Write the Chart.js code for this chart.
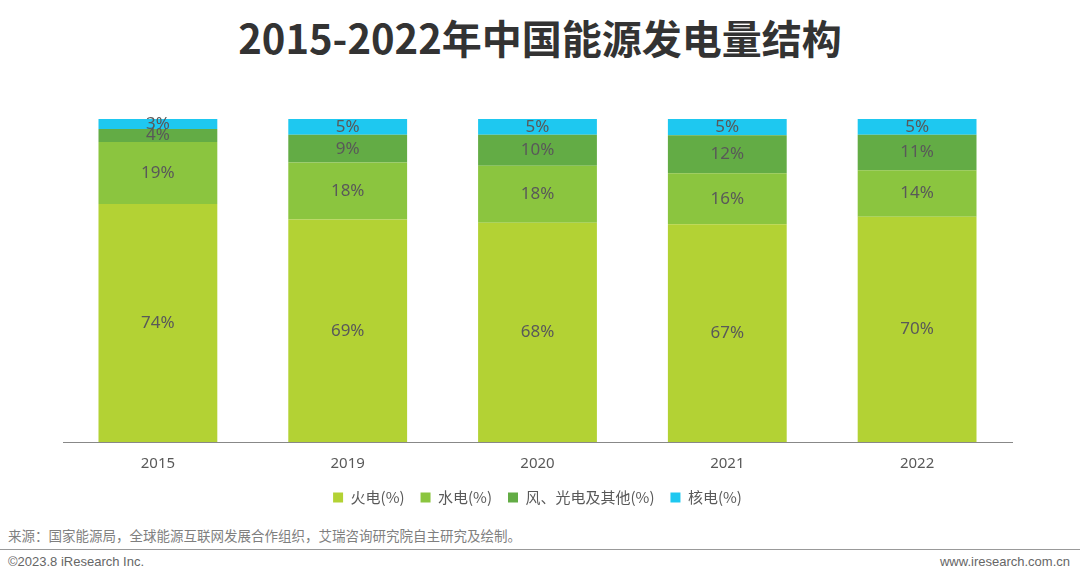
<!DOCTYPE html>
<html>
<head>
<meta charset="utf-8">
<script src="https://cdn.jsdelivr.net/npm/chart.js@4/dist/chart.umd.min.js"></script>
<style>
  body { margin: 0; background: #fff; width: 1080px; height: 577px; position: relative; overflow: hidden; font-family: "Noto Sans CJK SC", "Noto Sans", sans-serif; }
  #title { position: absolute; top: 9px; left: 0; width: 1080px; text-align: center; font-size: 40px; font-weight: bold; color: #333; line-height: 56px; }
  #wrap { position: absolute; top: 100px; left: 0; width: 1080px; height: 415px; }
  #source { position: absolute; top: 525px; left: 8px; font-size: 13.5px; color: #7f7f7f; }
  #rule { position: absolute; top: 549px; left: 0; width: 1080px; border-top: 1px solid #999; }
  #copy { position: absolute; top: 554px; left: 8px; font-size: 13px; color: #666; font-family: "Liberation Sans", Arial, sans-serif; }
  #site { position: absolute; top: 554px; right: 10px; font-size: 13px; color: #666; font-family: "Liberation Sans", Arial, sans-serif; }
</style>
</head>
<body>
<div id="title">2015-2022年中国能源发电量结构</div>
<div id="wrap"><canvas id="chart"></canvas></div>
<div id="source">来源：国家能源局，全球能源互联网发展合作组织，艾瑞咨询研究院自主研究及绘制。</div>
<div id="rule"></div>
<div id="copy">©2023.8 iResearch Inc.</div>
<div id="site">www.iresearch.com.cn</div>
<script>
var years = ['2015', '2019', '2020', '2021', '2022'];
var thermal = [73.7, 68.9, 67.9, 67.4, 69.7];
var hydro = [19.2, 17.6, 17.6, 15.8, 14.4];
var windSolar = [4.0, 8.6, 9.6, 11.8, 11.0];
var nuclear = [3.1, 4.9, 4.9, 5.0, 4.9];
var seriesNames = ['火电(%)', '水电(%)', '风、光电及其他(%)', '核电(%)'];
var colors = ['#b3d234', '#8bc53f', '#63ac45', '#1ec8f0'];

// draws the % text centred inside every stacked segment
var segmentLabels = {
    id: 'segmentLabels',
    afterDatasetsDraw: function(chart) {
        var ctx = chart.ctx;
        ctx.save();
        ctx.font = '17px "Noto Sans", "Noto Sans CJK SC", sans-serif';
        ctx.fillStyle = '#595959';
        ctx.textAlign = 'center';
        ctx.textBaseline = 'middle';
        chart.data.datasets.forEach(function(ds, i) {
            var meta = chart.getDatasetMeta(i);
            meta.data.forEach(function(bar, j) {
                var mid = (bar.y + bar.base) / 2;
                ctx.fillText(Math.round(ds.data[j]) + '%', bar.x, mid);
            });
        });
        ctx.restore();
    }
};

var seriesData = [thermal, hydro, windSolar, nuclear];
var datasets = [];
for (var i = 0; i < seriesData.length; i++) {
    datasets.push({
        label: seriesNames[i],
        data: seriesData[i],
        backgroundColor: colors[i],
        borderWidth: 0,
        barPercentage: 0.626,
        categoryPercentage: 1
    });
}

new Chart(document.getElementById('chart'), {
    type: 'bar',
    data: { labels: years, datasets: datasets },
    plugins: [segmentLabels],
    options: {
        responsive: true,
        maintainAspectRatio: false,
        animation: false,
        layout: { padding: { left: 63, right: 68, top: 19, bottom: 0 } },
        scales: {
            x: {
                stacked: true,
                grid: { display: false, drawTicks: false },
                border: { display: true, color: '#888', width: 1 },
                ticks: { color: '#595959', font: { size: 15, family: '"Noto Sans", sans-serif' }, padding: 13 },
                afterFit: function(scale) { scale.height -= 12; }
            },
            y: {
                stacked: true,
                min: 0,
                max: 100,
                display: false
            }
        },
        plugins: {
            legend: {
                position: 'bottom',
                labels: {
                    boxWidth: 10,
                    boxHeight: 10,
                    padding: 16,
                    color: '#595959',
                    font: { size: 15, family: '"Noto Sans CJK SC", sans-serif' }
                }
            },
            tooltip: { enabled: false }
        }
    }
});
</script>
</body>
</html>
